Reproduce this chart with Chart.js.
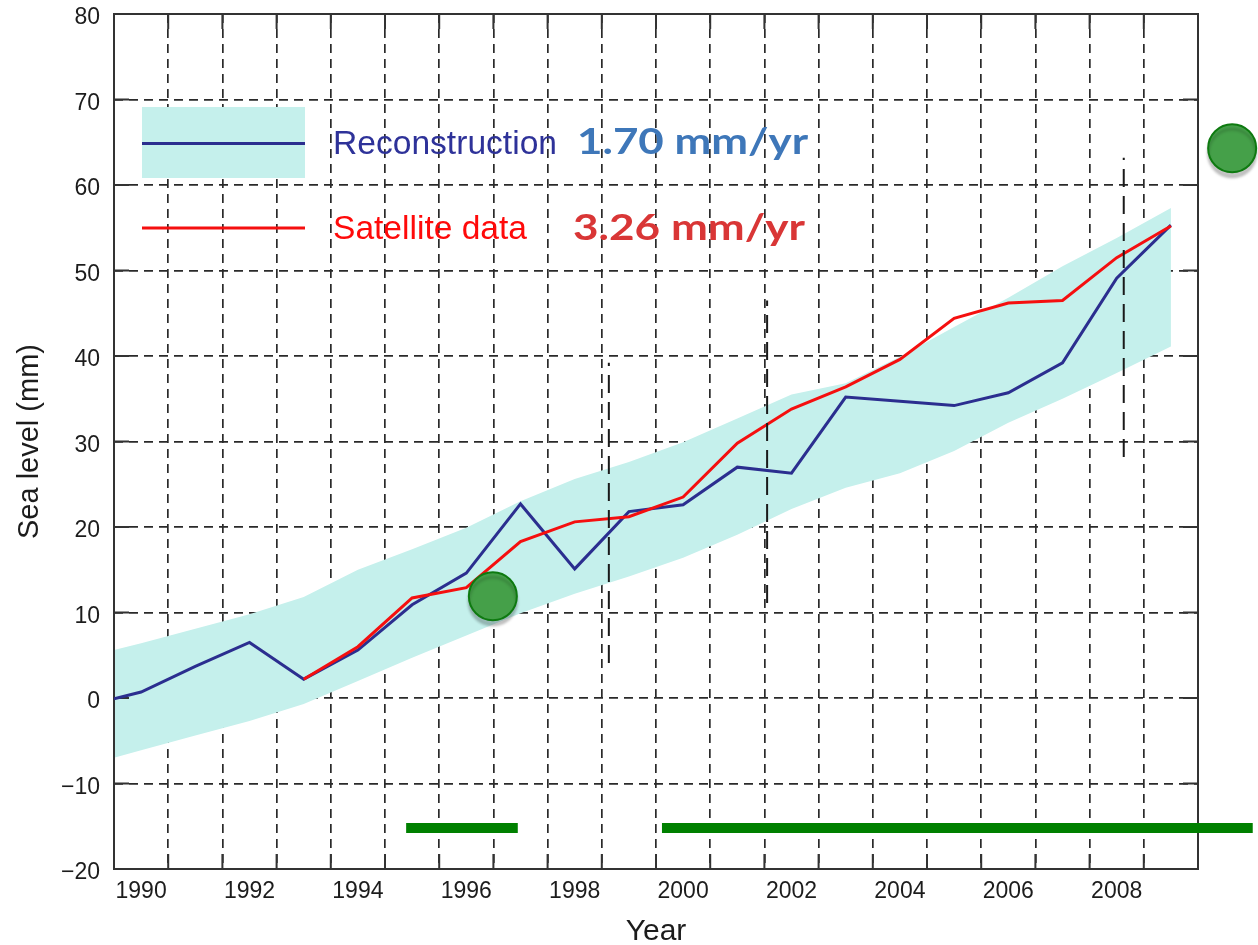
<!DOCTYPE html>
<html>
<head>
<meta charset="utf-8">
<script src="https://cdn.jsdelivr.net/npm/chart.js@4.4.1/dist/chart.umd.min.js"></script>
<style>
html,body{margin:0;padding:0;background:#ffffff;}
canvas{display:block;}
</style>
</head>
<body>
<canvas id="c" width="1258" height="945"></canvas>
<script>
// ---------------- data ----------------
const years = [1989.5, 1990, 1991, 1992, 1993, 1994, 1995, 1996, 1997, 1998, 1999, 2000, 2001, 2002, 2003, 2004, 2005, 2006, 2007, 2008, 2009];
const reconstruction = [-0.1, 0.7, 3.7, 6.5, 2.2, 5.6, 10.9, 14.6, 22.7, 15.1, 21.8, 22.6, 27.0, 26.3, 35.2, 34.7, 34.2, 35.7, 39.2, 49.1, 55.3];
const bandUpper = [5.6, 6.4, 8.1, 9.8, 11.8, 15.0, 17.4, 19.9, 23.0, 25.6, 27.6, 29.9, 32.7, 35.5, 36.8, 39.9, 43.4, 46.8, 50.5, 53.8, 57.3];
const bandLower = [-7.0, -6.1, -4.4, -2.7, -0.7, 2.0, 4.7, 7.3, 9.9, 12.2, 14.2, 16.4, 19.1, 22.1, 24.6, 26.3, 28.9, 32.2, 35.0, 38.0, 41.1];

const satYears = [1993, 1994, 1995, 1996, 1997, 1998, 1999, 2000, 2001, 2002, 2003, 2004, 2005, 2006, 2007, 2008, 2009];
const satellite = [2.2, 6.0, 11.7, 12.9, 18.3, 20.6, 21.2, 23.5, 29.8, 33.8, 36.4, 39.6, 44.4, 46.2, 46.5, 51.5, 55.2];

// vertical long-dash bars
const barX = [1998.63, 2001.55, 2008.13];
const barLow = [4.1, 11.1, 28.2];
const barHigh = [39.2, 46.5, 63.2];

// green annotation dots and spans
const dotX = [1996.49, 2010.13];
const dotY = [11.9, 64.3];
const spanStart = [1994.89, 1999.61];
const spanEnd = [1996.95, 2010.51];
const spanY = [-15.2, -15.2];

// ticks and labels
const xTickLabels = [1990, 1992, 1994, 1996, 1998, 2000, 2002, 2004, 2006, 2008];
const yTicks = [-20, -10, 0, 10, 20, 30, 40, 50, 60, 70, 80];
const legendLabels = ['Reconstruction', 'Satellite data'];
const trendLabels = ['1.70 mm/yr', '3.26 mm/yr'];
const xTitle = 'Year';
const yTitle = 'Sea level (mm)';

// ---------------- styles ----------------
const FONT = '"Liberation Sans", Arial, Helvetica, sans-serif';
const BLUE = '#2B2E8F';
const RED = '#F50F0F';
const CYAN = '#C5F0EC';
const GRID = '#2a2a2a';
const GREEN = '#008000';
const DOT_FILL = '#45A049';
const DOT_EDGE = '#0E7A10';

const pts = (xs, ys) => xs.map((x, i) => ({x: x, y: ys[i]}));

const datasets = [];
// green dots (top-most)
datasets.push({
  label: 'dots', data: pts(dotX, dotY), showLine: false,
  pointRadius: 24, pointHoverRadius: 24, pointBackgroundColor: DOT_FILL,
  pointBorderColor: DOT_EDGE, pointBorderWidth: 2, clip: false, isDots: true
});
// green spans
spanStart.forEach((s, i) => {
  datasets.push({
    label: 'span' + i, data: [{x: s, y: spanY[i]}, {x: spanEnd[i], y: spanY[i]}],
    borderColor: GREEN, borderWidth: 10, pointRadius: 0, borderCapStyle: 'butt', clip: false, fill: false
  });
});
// long-dash vertical bars
barX.forEach((x, i) => {
  datasets.push({
    label: 'bar' + i, data: [{x: x, y: barLow[i]}, {x: x, y: barHigh[i]}],
    borderColor: '#1a1a1a', borderWidth: 2, borderDash: [18, 9], pointRadius: 0, fill: false
  });
});
datasets.push({
  label: 'Satellite data', data: pts(satYears, satellite),
  borderColor: RED, borderWidth: 3, pointRadius: 0, fill: false, tension: 0
});
datasets.push({
  label: 'Reconstruction', data: pts(years, reconstruction),
  borderColor: BLUE, borderWidth: 3, pointRadius: 0, fill: false, tension: 0
});
datasets.push({
  label: 'upper', data: pts(years, bandUpper),
  borderWidth: 0, borderColor: 'rgba(0,0,0,0)', pointRadius: 0, fill: '+1', backgroundColor: CYAN
});
datasets.push({
  label: 'lower', data: pts(years, bandLower),
  borderWidth: 0, borderColor: 'rgba(0,0,0,0)', pointRadius: 0, fill: false
});

function fitText(ctx, text, font, color, x, baseline, width) {
  ctx.save();
  ctx.font = font;
  const w = ctx.measureText(text).width;
  ctx.translate(x, baseline);
  ctx.scale(width / w, 1);
  ctx.fillStyle = color;
  ctx.textBaseline = 'alphabetic';
  ctx.textAlign = 'left';
  ctx.fillText(text, 0, 0);
  ctx.restore();
}

const framePlugin = {
  id: 'frame',
  beforeDatasetsDraw(chart) {
    const {ctx, chartArea: a, scales} = chart;
    ctx.save();
    ctx.strokeStyle = '#333333';
    ctx.lineWidth = 2;
    ctx.setLineDash([]);
    const L = 15;
    ctx.beginPath();
    scales.x.ticks.forEach(t => {
      if (Number.isInteger(t.value) || t.value <= scales.x.min || t.value >= scales.x.max) return;
      const px = scales.x.getPixelForValue(t.value);
      ctx.moveTo(px, a.bottom); ctx.lineTo(px, a.bottom - L);
      ctx.moveTo(px, a.top); ctx.lineTo(px, a.top + L);
    });
    scales.y.ticks.forEach(t => {
      if (t.value <= scales.y.min || t.value >= scales.y.max) return;
      const py = scales.y.getPixelForValue(t.value);
      ctx.moveTo(a.left, py); ctx.lineTo(a.left + L, py);
      ctx.moveTo(a.right, py); ctx.lineTo(a.right - L, py);
    });
    ctx.stroke();
    ctx.strokeRect(a.left, a.top, a.right - a.left, a.bottom - a.top);
    ctx.restore();
  },
  beforeDatasetDraw(chart, args) {
    const ds = chart.data.datasets[args.index];
    if (ds.isDots) {
      chart.ctx.save();
      chart.ctx.shadowColor = 'rgba(0,0,0,0.22)';
      chart.ctx.shadowOffsetY = 5;
      chart.ctx.shadowBlur = 3;
    }
  },
  afterDatasetDraw(chart, args) {
    const ds = chart.data.datasets[args.index];
    if (!ds.isDots) return;
    const ctx = chart.ctx;
    const a = chart.chartArea;
    // points the library positioned outside the plot area are skipped by Chart.js; draw them at their scale positions
    args.meta.data.forEach(el => {
      const r = ds.pointRadius;
      if (el.x - r > a.right || el.x + r < a.left || el.y - r > a.bottom || el.y + r < a.top) {
        ctx.beginPath();
        ctx.arc(el.x, el.y, r, 0, Math.PI * 2);
        ctx.fillStyle = DOT_FILL;
        ctx.fill();
        ctx.lineWidth = 2;
        ctx.strokeStyle = DOT_EDGE;
        ctx.stroke();
      }
    });
    ctx.restore();
  },
  afterDraw(chart) {
    const ctx = chart.ctx;
    ctx.save();
    // legend
    ctx.fillStyle = CYAN;
    ctx.fillRect(142, 107, 163, 71);
    ctx.lineWidth = 3;
    ctx.strokeStyle = BLUE;
    ctx.beginPath(); ctx.moveTo(142, 143.5); ctx.lineTo(305, 143.5); ctx.stroke();
    ctx.strokeStyle = RED;
    ctx.beginPath(); ctx.moveTo(142, 228); ctx.lineTo(305, 228); ctx.stroke();
    ctx.restore();
    fitText(ctx, legendLabels[0], '33px ' + FONT, '#2E3299', 333, 153.5, 224);
    fitText(ctx, legendLabels[1], '33px ' + FONT, '#FF0A0A', 333, 238.5, 194);
    fitText(ctx, trendLabels[0], 'bold 36px Lato, "Open Sans", sans-serif', '#3E77B9', 577, 153.5, 231);
    fitText(ctx, trendLabels[1], 'bold 36px Lato, "Open Sans", sans-serif', '#D93636', 573, 240, 232);
  }
};

new Chart(document.getElementById('c'), {
  type: 'line',
  data: {datasets: datasets},
  plugins: [framePlugin],
  options: {
    responsive: false,
    devicePixelRatio: 1,
    animation: false,
    events: [],
    layout: {autoPadding: false, padding: {left: 0, right: 60, top: 0, bottom: 0}},
    plugins: {
      legend: {display: false},
      tooltip: {enabled: false},
      filler: {drawTime: 'beforeDatasetsDraw'}
    },
    scales: {
      x: {
        type: 'linear', min: 1989.5, max: 2009.5,
        afterBuildTicks: s => { const t = []; for (let k = 0; k <= 40; k++) t.push({value: 1989.5 + k * 0.5}); s.ticks = t; },
        afterFit: s => { s.height = 76; s.paddingLeft = 0; s.paddingRight = 0; },
        grid: {
          color: c => (c.tick && (Number.isInteger(c.tick.value) || c.tick.value <= 1989.5 || c.tick.value >= 2009.5)) ? 'rgba(0,0,0,0)' : GRID,
          lineWidth: 1.7, drawTicks: false, borderDash: [9, 6]
        },
        border: {display: false, dash: [9, 6]},
        ticks: {
          autoSkip: false, maxRotation: 0, minRotation: 0, padding: 9, color: '#1c1c1c',
          font: {family: FONT, size: 23},
          callback: v => xTickLabels.includes(v) ? String(v) : ''
        },
        title: {display: true, text: xTitle, color: '#1c1c1c', font: {family: FONT, size: 30, lineHeight: 1}, padding: {top: 0, bottom: -2}}
      },
      y: {
        type: 'linear', min: -20, max: 80,
        afterBuildTicks: s => { s.ticks = yTicks.map(v => ({value: v})); },
        afterFit: s => { s.width = 114; s.paddingTop = 14; s.paddingBottom = 0; },
        grid: {
          color: c => (c.tick && (c.tick.value <= -20 || c.tick.value >= 80)) ? 'rgba(0,0,0,0)' : GRID,
          lineWidth: 1.7, drawTicks: false, borderDash: [9, 6]
        },
        border: {display: false, dash: [9, 6]},
        ticks: {
          padding: 14, labelOffset: 4, color: '#1c1c1c',
          font: {family: FONT, size: 23, lineHeight: 0.02},
          callback: v => v < 0 ? '\u2212' + Math.abs(v) : String(v)
        },
        title: {display: true, text: yTitle, color: '#1c1c1c', font: {family: FONT, size: 29, lineHeight: 1}, padding: {top: 15, bottom: 0}}
      }
    }
  }
});
</script>
</body>
</html>
